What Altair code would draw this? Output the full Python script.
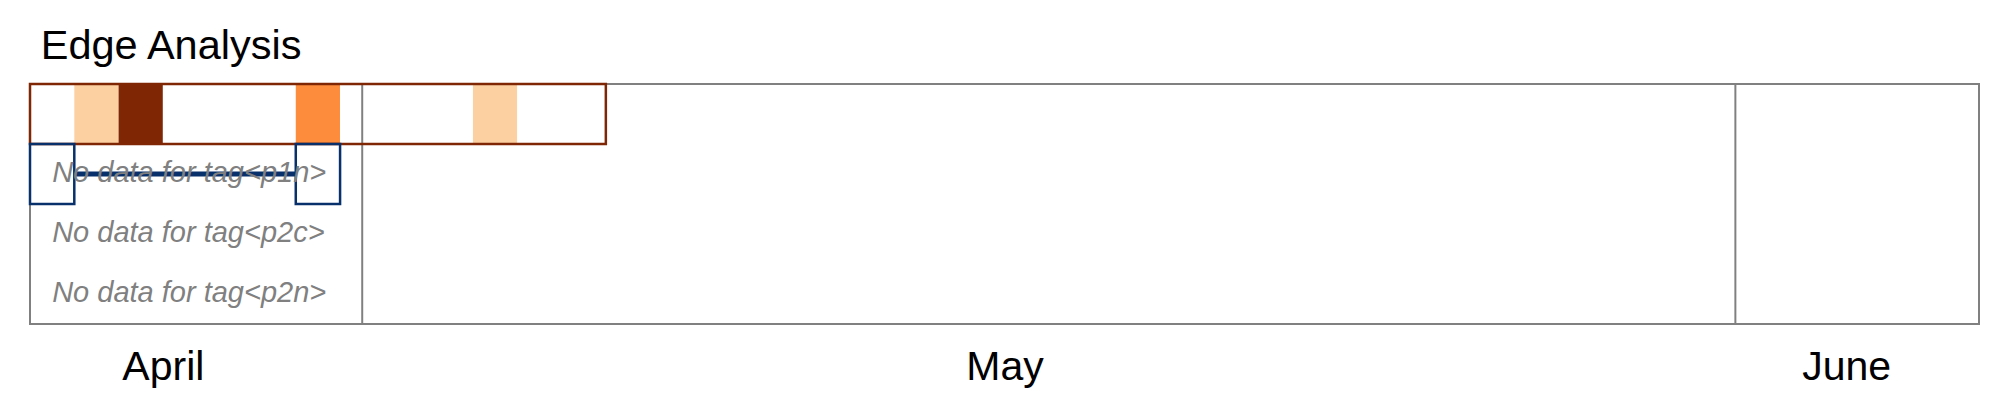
import altair as alt
import pandas as pd

# ---- data ----
title_text = "Edge Analysis"
rows = ["heat", "p1n", "p2c", "p2n"]
cell_dates = ["2024-04-24", "2024-04-25", "2024-04-26", "2024-04-27", "2024-04-28",
              "2024-04-29", "2024-04-30", "2024-05-01", "2024-05-02", "2024-05-03",
              "2024-05-04", "2024-05-05", "2024-05-06"]
cell_counts = [0, 1, 3, 0, 0, 0, 2, 0, 0, 0, 1, 0, 0]
count_levels = [0, 1, 2, 3]
count_colors = ["#ffffff", "#fdd0a2", "#fd8d3c", "#7f2704"]
p1n_box_dates = ["2024-04-24", "2024-04-30"]
empty_tags = ["p1n", "p2c", "p2n"]
month_starts = ["2024-05-01", "2024-06-01"]
month_label_dates = ["2024-04-26T12:00:00", "2024-05-15T12:00:00", "2024-06-03T12:00:00"]
x_domain = ["2024-04-23T12:00:00", "2024-06-06T12:00:00"]

HALF = pd.Timedelta(hours=12)


def dt(s):
    t = pd.Timestamp(s)
    return alt.DateTime(year=t.year, month=t.month, date=t.day, hours=t.hour, minutes=t.minute)


def iso(t):
    return pd.Timestamp(t).strftime("%Y-%m-%dT%H:%M:%S")


cells = pd.DataFrame({
    "row": "heat",
    "start": [iso(pd.Timestamp(d) - HALF) for d in cell_dates],
    "end": [iso(pd.Timestamp(d) + HALF) for d in cell_dates],
    "count": cell_counts,
})
border = pd.DataFrame({
    "row": ["heat"],
    "start": [iso(pd.Timestamp(cell_dates[0]) - HALF)],
    "end": [iso(pd.Timestamp(cell_dates[-1]) + HALF)],
})
boxes = pd.DataFrame({
    "row": "p1n",
    "start": [iso(pd.Timestamp(d) - HALF) for d in p1n_box_dates],
    "end": [iso(pd.Timestamp(d) + HALF) for d in p1n_box_dates],
})
link = pd.DataFrame({
    "row": ["p1n"],
    "start": [iso(pd.Timestamp(p1n_box_dates[0]) + HALF)],
    "end": [iso(pd.Timestamp(p1n_box_dates[1]) - HALF)],
})
notes = pd.DataFrame({
    "row": empty_tags,
    "x": [iso(pd.Timestamp(cell_dates[0]))] * len(empty_tags),
    "label": ["No data for tag<%s>" % t for t in empty_tags],
})
dividers = pd.DataFrame({"x": [iso(pd.Timestamp(d)) for d in month_starts]})

xscale = alt.Scale(domain=[dt(d) for d in x_domain])
yscale = alt.Scale(domain=rows, paddingInner=0, paddingOuter=0)
FONT = "Liberation Sans"

x_axis = alt.Axis(
    values=[dt(d) for d in month_label_dates],
    labelExpr="timeFormat(datum.value, '%B')",
    domain=False, ticks=False, grid=False, title=None,
    labelFontSize=41, labelColor="black", labelFont=FONT,
    labelPadding=23, labelOverlap=False, labelFlush=False,
)

heat = alt.Chart(cells).mark_rect().encode(
    x=alt.X("start:T", scale=xscale, axis=x_axis),
    x2="end:T",
    y=alt.Y("row:N", scale=yscale, axis=None),
    color=alt.Color("count:O", scale=alt.Scale(domain=count_levels, range=count_colors), legend=None),
)

divs = alt.Chart(dividers).mark_rule(color="#808080", strokeWidth=2).encode(
    x=alt.X("x:T", scale=xscale),
)

brd = alt.Chart(border).mark_rect(fillOpacity=0, stroke="#7f2704", strokeWidth=2.5).encode(
    x=alt.X("start:T", scale=xscale),
    x2="end:T",
    y=alt.Y("row:N", scale=yscale, axis=None),
)

bx = alt.Chart(boxes).mark_rect(fillOpacity=0, stroke="#08306b", strokeWidth=2.5).encode(
    x=alt.X("start:T", scale=xscale),
    x2="end:T",
    y=alt.Y("row:N", scale=yscale, axis=None),
)

ln = alt.Chart(link).mark_rule(color="#08306b", strokeWidth=5).encode(
    x=alt.X("start:T", scale=xscale),
    x2="end:T",
    y=alt.Y("row:N", scale=yscale, axis=None),
)

txt = alt.Chart(notes).mark_text(
    align="left", baseline="middle", fontSize=29, fontStyle="italic",
    color="#808080", font=FONT, dy=-1,
).encode(
    x=alt.X("x:T", scale=xscale),
    y=alt.Y("row:N", scale=yscale, axis=None),
    text="label:N",
)

chart = alt.layer(heat, divs, brd, bx, ln, txt).properties(
    width=1949,
    height=240,
    autosize=alt.AutoSizeParams(type="none"),
    padding={"left": 22, "top": 76, "right": 22, "bottom": 70},
    title=alt.Title(title_text, anchor="start", fontSize=41.5, font=FONT,
                    fontWeight="normal", color="black", dx=12, offset=15),
).configure_view(stroke="#808080", strokeWidth=2)

chart.save("out.html", embed_options={"renderer": "svg", "actions": False})
